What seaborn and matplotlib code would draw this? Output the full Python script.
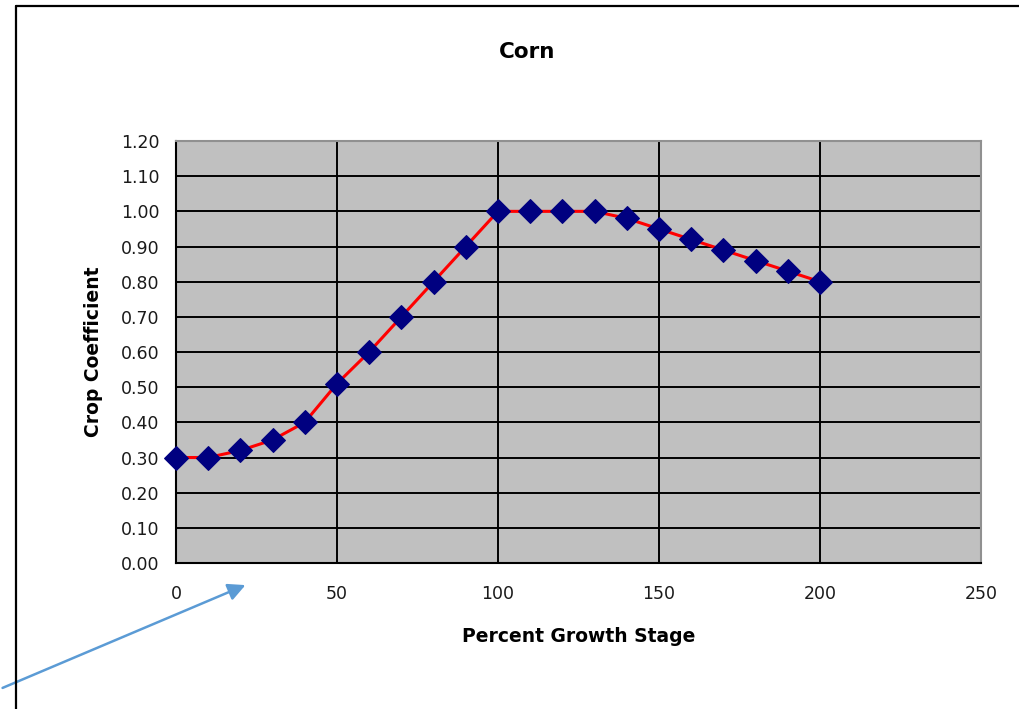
import matplotlib
matplotlib.use('Agg')
import matplotlib.pyplot as plt
import seaborn as sns
import pandas as pd
from matplotlib.lines import Line2D
from matplotlib.patches import FancyArrowPatch

# Corn crop coefficient curve
growth_stage = [0, 10, 20, 30, 40, 50, 60, 70, 80, 90, 100,
                110, 120, 130, 140, 150, 160, 170, 180, 190, 200]
crop_coef = [0.30, 0.30, 0.32, 0.35, 0.40, 0.51, 0.60, 0.70, 0.80, 0.90, 1.00,
             1.00, 1.00, 1.00, 0.98, 0.95, 0.92, 0.89, 0.86, 0.83, 0.80]
x_ticks = [0, 50, 100, 150, 200, 250]
y_ticks = [i / 10 for i in range(13)]

df = pd.DataFrame({'stage': growth_stage, 'kc': crop_coef})

sns.set_style('white')
plt.rcParams['font.family'] = ['DejaVu Sans']
plt.rcParams['text.color'] = 'black'
plt.rcParams['axes.labelcolor'] = 'black'

fig = plt.figure(figsize=(10.2, 7.09), dpi=100)
ax = fig.add_axes([0.1725, 0.2059, 0.7892, 0.5952])
ax.set_facecolor('#C0C0C0')

sns.lineplot(data=df, x='stage', y='kc', ax=ax, color='red', linewidth=2.2,
             marker='D', markersize=12, markerfacecolor='#000080',
             markeredgecolor='#000080', zorder=3)
for ln in ax.lines:
    ln.set_clip_on(False)

ax.set_xlim(0, 250)
ax.set_ylim(0, 1.2)
ax.set_xticks(x_ticks)
ax.set_yticks(y_ticks)
ax.set_yticklabels([f'{v:.2f}' for v in y_ticks])
ax.grid(True, color='black', linewidth=1.4)
ax.set_axisbelow(True)

for side in ['left', 'bottom']:
    ax.spines[side].set_color('black')
    ax.spines[side].set_linewidth(1.5)
for side in ['top', 'right']:
    ax.spines[side].set_color('#909090')
    ax.spines[side].set_linewidth(1.5)

ax.tick_params(axis='both', direction='out', length=5, width=1.5, color='black',
               labelsize=12.5, labelcolor='#1a1a1a')
ax.tick_params(axis='y', pad=7)
ax.tick_params(axis='x', pad=11)

fig.text(527 / 1020, 1 - 52 / 709, 'Corn', fontsize=15.5, fontweight='bold',
         ha='center', va='center', color='black')
ax.set_xlabel('Percent Growth Stage', fontsize=13.5, fontweight='bold', labelpad=17)
ax.set_ylabel('Crop Coefficient', fontsize=13.5, fontweight='bold', labelpad=12.5)

# chart frame (left and top edges visible in the crop)
fig.add_artist(Line2D([16 / 1020, 16 / 1020], [0, 1 - 6 / 709], color='black', linewidth=1.6))
fig.add_artist(Line2D([16 / 1020, 1], [1 - 6 / 709, 1 - 6 / 709], color='black', linewidth=1.6))

# blue callout arrow
arrow = FancyArrowPatch((0, 1 - 689 / 709), (248 / 1020, 1 - 584 / 709),
                        transform=fig.transFigure, arrowstyle='-|>',
                        mutation_scale=26, color='#5B9BD5', linewidth=1.8)
fig.add_artist(arrow)

fig.savefig('out.png', dpi=100)
